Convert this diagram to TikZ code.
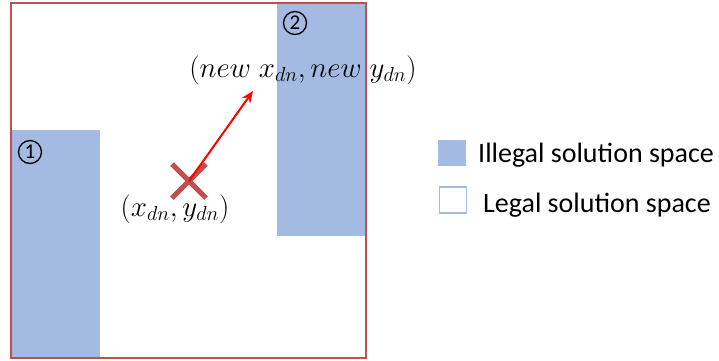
\RequirePackage{fix-cm}
\documentclass[tikz,border=0pt]{standalone}
\usepackage{fontspec}
\setmainfont{Carlito}
\usetikzlibrary{arrows.meta}
\definecolor{illegal}{RGB}{163,186,227}
\definecolor{frame}{RGB}{192,80,77}
\definecolor{crossc}{RGB}{192,80,77}
\tikzset{
  region/.style={fill=illegal, draw=none},
  num/.style={circle, draw=black, line width=1.3pt, minimum size=23pt, inner sep=0pt, font=\fontsize{21}{24}\selectfont},
  mathlab/.style={font=\fontsize{29}{32}\selectfont, inner sep=0pt},
  legtext/.style={font=\fontsize{28}{32}\selectfont, anchor=west, inner sep=0pt},
  movearrow/.style={draw=red, line width=2pt, -{Stealth[length=12pt,width=10pt]}},
}
\begin{document}
\begin{tikzpicture}[x=1pt,y=-1pt]
\useasboundingbox (0,0) rectangle (719,360);
% illegal regions
\fill[region] (11,130) rectangle (100,358);
\fill[region] (277,3) rectangle (365,236);
% outer frame
\draw[frame, line width=2pt] (11,3) rectangle (366,358);
% numbers
\node[num] (n1) at (30,152) {1};
\node[num] (n2) at (295,23) {2};
% cross
\coordinate (c) at (189,181);
\draw[crossc, line width=5pt] (172,164) -- (206,198) (206,164) -- (172,198);
\coordinate (t) at (253,91);
\draw[movearrow] (c) -- (t);
\node[mathlab] (old) at (175,209) {$(x_{dn}, y_{dn})$};
\node[mathlab] (new) at (303,70) {$(new\; x_{dn}, new\; y_{dn})$};
% legend
\node[fill=illegal, minimum width=28pt, minimum height=26pt, inner sep=0pt] (lg1) at (452,153) {};
\node[draw=illegal, line width=1.5pt, fill=white, minimum width=27pt, minimum height=26pt, inner sep=0pt] (lg2) at (453,200) {};
\node[legtext] (t1) at (478,155) {Illegal solution space};
\node[legtext] (t2) at (483,205) {Legal solution space};
\end{tikzpicture}
\end{document}
